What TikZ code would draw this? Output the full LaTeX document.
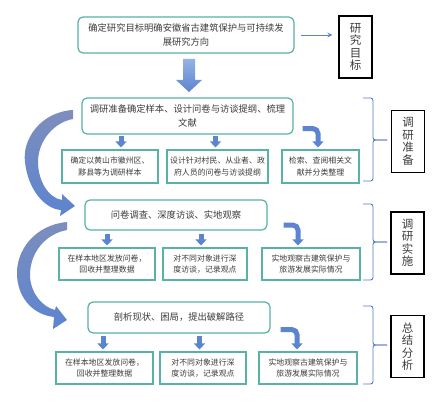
\documentclass[tikz,border=0pt]{standalone}
\usepackage{fontspec}
\newfontfamily\cjk{Noto Sans CJK SC}
\usepackage{tikz}
\usetikzlibrary{positioning, calc, arrows.meta}
\definecolor{boxTeal}{RGB}{88,178,165}
\definecolor{flowBlue}{RGB}{92,132,208}
\definecolor{greyBlue}{RGB}{125,142,188}
\definecolor{lightBlue}{RGB}{150,178,228}
\definecolor{braceBlue}{RGB}{82,122,200}
\definecolor{textGray}{RGB}{60,60,60}

\begin{document}
\begin{tikzpicture}[
    x=1pt, y=-1pt,
    stage/.style={rectangle, rounded corners=5pt, draw=boxTeal, line width=1.2pt,
                  fill=white, align=center, text=textGray,
                  font=\cjk\fontsize{9.3}{13.5}\selectfont},
    task/.style={rectangle, draw=boxTeal, line width=1.1pt, fill=white,
                 align=center, text=textGray, inner sep=1pt,
                 font=\cjk\fontsize{7.9}{11.5}\selectfont},
    phase/.style={rectangle, draw=black, line width=1.1pt, align=center,
                  text=textGray, inner sep=1pt, minimum width=33pt,
                  minimum height=62pt, font=\cjk\fontsize{11.5}{12.5}\selectfont},
    droparrow/.style={draw=flowBlue, line width=5pt,
                      -{Triangle[width=11pt,length=6pt]}, shorten >=2pt},
    bentarrow/.style={droparrow, rounded corners=5pt},
    bracket/.style={draw=braceBlue, line width=0.9pt, rounded corners=2.5pt},
    pointer/.style={draw=flowBlue, line width=0.8pt,
                    -{Stealth[length=5pt,width=5pt]}, shorten <=6pt, shorten >=6pt},
  ]
    \useasboundingbox (0,0) rectangle (435,401);

    % Goal
    \node[stage, minimum width=216pt, minimum height=36pt] (Goal) at (186,35)
      {确定研究目标明确安徽省古建筑保护与可持续发\\展研究方向};
    \node[phase] (L1) at (355.5,47) {研\\究\\目\\标};
    \draw[pointer] (Goal.east) -- (Goal.east -| L1.west);
    \shade[top color=lightBlue, bottom color=flowBlue]
      (183,59) -- (195,59) -- (195,80) -- (202,80) -- (189,92) -- (176,80) -- (183,80) -- cycle;

    % Stage 1: preparation
    \node[stage, minimum width=211pt, minimum height=36pt] (Prep) at (187.5,116)
      {调研准备确定样本、设计问卷与访谈提纲、梳理\\文献};
    \node[task, minimum width=96pt, minimum height=33pt] (P1) at (110,166.5)
      {确定以黄山市徽州区、\\黟县等为调研样本};
    \node[task, minimum width=101pt, minimum height=33pt] (P2) at (217.5,166.5)
      {设计针对村民、从业者、政\\府人员的问卷与访谈提纲};
    \node[task, minimum width=77pt, minimum height=33pt] (P3) at (320.5,166.5)
      {检索、查阅相关文\\献并分类整理};
    \draw[droparrow] ($(P1.north |- Prep.south)+(11,1)$) -- ($(P1.north)+(11,0)$);
    \draw[droparrow] ($(P2.north |- Prep.south)+(-2,1)$) -- ($(P2.north)+(-2,0)$);
    \draw[bentarrow] ($(Prep.south east)+(9,-6)$) -| ($(P3.north)+(-2.5,0)$);
    \draw[bracket] (363,98) -| (373,140) -- (387,140);
    \draw[bracket] (363,181) -| (373,140) -- (387,140);
    \node[phase] (L2) at (408,141.5) {调\\研\\准\\备};

    % Stage 2: fieldwork
    \node[stage, minimum width=182pt, minimum height=30pt] (Survey) at (176,215)
      {问卷调查、深度访谈、实地观察};
    \node[task, minimum width=96pt, minimum height=32pt] (S1) at (107,264)
      {在样本地区发放问卷，\\回收并整理数据};
    \node[task, minimum width=84pt, minimum height=32pt] (S2) at (205,264)
      {对不同对象进行深\\度访谈，记录观点};
    \node[task, minimum width=98pt, minimum height=32pt] (S3) at (311,264)
      {实地观察古建筑保护与\\旅游发展实际情况};
    \draw[droparrow] ($(S1.north |- Survey.south)+(0,3)$) -- (S1.north);
    \draw[droparrow] ($(S2.north |- Survey.south)+(-4,3)$) -- ($(S2.north)+(-4,0)$);
    \draw[bentarrow] ($(Survey.south east)+(16,-5.5)$) -| ($(S3.north)+(-13,0)$);
    \draw[bracket] (363,204) -| (373,242) -- (387,242);
    \draw[bracket] (363,280) -| (373,242) -- (387,242);
    \node[phase] (L3) at (407.5,243) {调\\研\\实\\施};

    % Stage 3: analysis
    \node[stage, minimum width=182pt, minimum height=31pt] (Analysis) at (179,317.5)
      {剖析现状、困局，提出破解路径};
    \node[task, minimum width=97pt, minimum height=32pt] (R1) at (104.5,368)
      {在样本地区发放问卷，\\回收并整理数据};
    \node[task, minimum width=86pt, minimum height=32pt] (R2) at (203,368)
      {对不同对象进行深\\度访谈，记录观点};
    \node[task, minimum width=98pt, minimum height=32pt] (R3) at (308,368)
      {实地观察古建筑保护与\\旅游发展实际情况};
    \draw[droparrow] ($(R1.north |- Analysis.south)+(-1.5,2)$) -- ($(R1.north)+(-1.5,0)$);
    \draw[droparrow] ($(R2.north |- Analysis.south)+(-3.5,2)$) -- ($(R2.north)+(-3.5,0)$);
    \draw[bentarrow] ($(Analysis.south east)+(10,-4)$) -| ($(R3.north)+(-11,0)$);
    \draw[bracket] (363,306) -| (373,345) -- (387,345);
    \draw[bracket] (363,384) -| (373,345) -- (387,345);
    \node[phase] (L4) at (407.5,346.5) {总\\结\\分\\析};

    % Loop arrows
    \shade[top color=greyBlue, bottom color=flowBlue]
      (73,110) .. controls (40,112) and (22,140) .. (25,162)
      .. controls (28,190) and (45,209) .. (61,210) -- (60,216) -- (75,206)
      -- (62,194) -- (62,200) .. controls (48,198) and (38,180) .. (38,162)
      .. controls (38,140) and (55,122) .. (73,119) -- cycle;
    \shade[top color=greyBlue, bottom color=flowBlue]
      (67,222) .. controls (35,225) and (16,250) .. (17,275)
      .. controls (18,300) and (35,315) .. (54,317) -- (53,329) -- (67,320)
      -- (56,306) -- (55,310) .. controls (42,307) and (30,292) .. (30,275)
      .. controls (30,253) and (45,234) .. (67,230) -- cycle;
  \end{tikzpicture}
\end{document}
